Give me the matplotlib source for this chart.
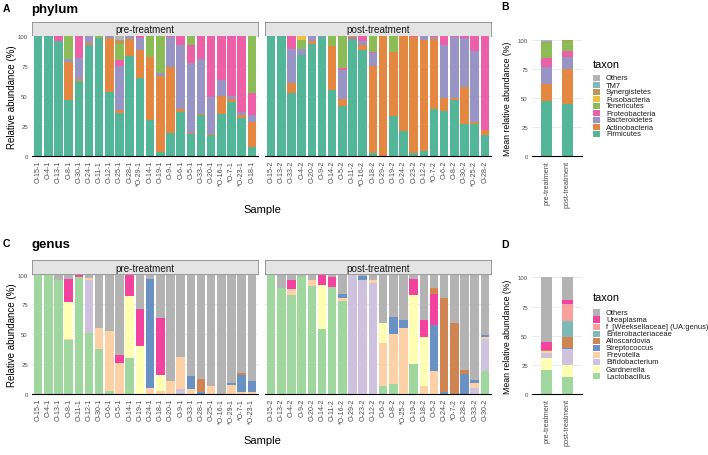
import numpy as np
import matplotlib
matplotlib.use("Agg")
from matplotlib import pyplot as plt
from matplotlib.patches import Rectangle

plt.rcParams["font.family"] = ["Liberation Sans", "DejaVu Sans"]

W, H = 708, 456

# ---- phylum -------------------------------------------------------------
phylum_taxa = ["Firmicutes", "Actinobacteria", "Bacteroidetes", "Proteobacteria",
               "Tenericutes", "Fusobacteria", "Synergistetes", "TM7", "Others"]
phylum_colors = ["#54b699", "#e38741", "#9894c6", "#ed5fa7", "#8cbc56",
                 "#ecc041", "#bc9856", "#80b9ba", "#b3b3b3"]

phylum_pre_samples = ["O-15-1", "O-4-1", "O-13-1", "O-8-1", "O-30-1", "O-24-1", "O-11-1",
                      "O-12-1", "O-25-1", "O-28-1", "*O-29-1", "O-14-1", "O-19-1", "O-9-1",
                      "O-6-1", "O-5-1", "O-33-1", "O-20-1", "*O-16-1", "*O-7-1", "*O-23-1",
                      "O-18-1"]
phylum_pre = [
    [100, 0, 0, 0, 0, 0, 0, 0, 0],
    [100, 0, 0, 0, 0, 0, 0, 0, 0],
    [95.8, 0, 0, 4.2, 0, 0, 0, 0, 0],
    [46.8, 31.6, 2.6, 0, 19.0, 0, 0, 0, 0],
    [62.7, 1.4, 17.7, 18.2, 0, 0, 0, 0, 0],
    [93.0, 1.1, 5.9, 0, 0, 0, 0, 0, 0],
    [98.6, 0, 0, 0, 1.4, 0, 0, 0, 0],
    [53.2, 45.4, 1.4, 0, 0, 0, 0, 0, 0],
    [36.4, 2.0, 36.4, 5.6, 13.2, 0, 3.0, 0, 3.4],
    [83.2, 14.8, 2.0, 0, 0, 0, 0, 0, 0],
    [65.0, 23.8, 9.8, 1.4, 0, 0, 0, 0, 0],
    [30.0, 52.4, 0, 0, 17.6, 0, 0, 0, 0],
    [3.4, 63.8, 2.0, 0, 30.8, 0, 0, 0, 0],
    [19.6, 54.4, 25.4, 0.6, 0, 0, 0, 0, 0],
    [37.0, 2.8, 53.2, 7.0, 0, 0, 0, 0, 0],
    [18.8, 0.8, 58.0, 15.4, 7.0, 0, 0, 0, 0],
    [34.2, 1.4, 45.4, 19.0, 0, 0, 0, 0, 0],
    [17.4, 1.4, 30.8, 50.4, 0, 0, 0, 0, 0],
    [35.6, 14.5, 13.5, 36.4, 0, 0, 0, 0, 0],
    [45.4, 2.2, 2.8, 49.6, 0, 0, 0, 0, 0],
    [32.0, 2.2, 2.8, 63.0, 0, 0, 0, 0, 0],
    [7.6, 21.0, 5.6, 18.2, 47.6, 0, 0, 0, 0],
]

phylum_post_samples = ["O-15-2", "O-13-2", "O-33-2", "O-4-2", "O-20-2", "O-9-2", "O-14-2",
                       "O-5-2", "O-11-2", "*O-16-2", "O-18-2", "O-29-2", "O-19-2", "O-24-2",
                       "O-23-2", "O-12-2", "*O-7-2", "O-6-2", "O-8-2", "O-30-2", "*O-25-2",
                       "O-28-2"]
phylum_post = [
    [100, 0, 0, 0, 0, 0, 0, 0, 0],
    [100, 0, 0, 0, 0, 0, 0, 0, 0],
    [53.0, 8.3, 28.3, 10.4, 0, 0, 0, 0, 0],
    [84.0, 0, 5.6, 0, 7.6, 2.8, 0, 0, 0],
    [93.6, 2.2, 4.2, 0, 0, 0, 0, 0, 0],
    [99.4, 0, 0.6, 0, 0, 0, 0, 0, 0],
    [55.2, 37.0, 0, 0, 7.8, 0, 0, 0, 0],
    [42.0, 5.3, 24.7, 1.4, 26.6, 0, 0, 0, 0],
    [98.0, 0, 0, 1.0, 1.0, 0, 0, 0, 0],
    [88.8, 4.2, 2.8, 4.2, 0, 0, 0, 0, 0],
    [2.8, 72.8, 10.4, 0.6, 13.4, 0, 0, 0, 0],
    [0.5, 99.5, 0, 0, 0, 0, 0, 0, 0],
    [33.3, 53.3, 0, 0, 13.4, 0, 0, 0, 0],
    [20.7, 79.3, 0, 0, 0, 0, 0, 0, 0],
    [2.8, 96.4, 0, 0.8, 0, 0, 0, 0, 0],
    [4.5, 92.7, 2.8, 0, 0, 0, 0, 0, 0],
    [39.0, 58.8, 1.4, 0.8, 0, 0, 0, 0, 0],
    [37.8, 10.9, 44.3, 7.0, 0, 0, 0, 0, 0],
    [46.8, 1.9, 50.7, 0.6, 0, 0, 0, 0, 0],
    [27.2, 30.2, 41.2, 1.4, 0, 0, 0, 0, 0],
    [26.6, 2.0, 59.4, 12.0, 0, 0, 0, 0, 0],
    [17.4, 4.2, 0, 78.4, 0, 0, 0, 0, 0],
]

phylum_mean_pre = [47.5, 14.5, 14.5, 7.5, 13.0, 0.2, 1.0, 0.5, 1.3]
phylum_mean_post = [44.5, 30.0, 10.5, 5.5, 8.5, 0.3, 0.2, 0.2, 0.3]

# ---- genus --------------------------------------------------------------
genus_taxa = ["Lactobacillus", "Gardnerella", "Bifidobacterium", "Prevotella",
              "Streptococcus", "Alloscardovia", "Enterobacteriaceae",
              "f_[Weeksellaceae] (UA:genus)", "Ureaplasma", "Others"]
genus_colors = ["#9fd79f", "#ffffb3", "#cec2df", "#fed0a5", "#6a91c4",
                "#cf8451", "#80b8b8", "#f8a19c", "#f4429f", "#b3b3b3"]
# stacking order of the per-sample bars (bottom -> top)
genus_sample_stack = [0, 2, 3, 1, 4, 6, 7, 8, 5, 9]

genus_pre_samples = ["O-15-1", "O-4-1", "O-13-1", "O-8-1", "O-11-1", "O-12-1", "O-30-1",
                     "O-6-1", "O-5-1", "O-14-1", "O-19-1", "O-24-1", "O-18-1", "O-20-1",
                     "O-9-1", "O-33-1", "O-28-1", "O-25-1", "*O-16-1", "*O-29-1", "*O-7-1",
                     "*O-23-1"]
genus_pre = [
    [100, 0, 0, 0, 0, 0, 0, 0, 0, 0],
    [100, 0, 0, 0, 0, 0, 0, 0, 0, 0],
    [95.3, 0, 0, 0, 0, 0, 0, 0, 0, 4.7],
    [45.0, 30.6, 0, 1.4, 0, 0, 0, 0, 19.0, 4.0],
    [98.0, 0, 0, 0, 0, 0, 0, 0, 1.4, 0.6],
    [51.0, 0, 44.8, 1.4, 0, 0, 0, 0, 0, 2.8],
    [38.0, 0, 0, 17.3, 0, 0, 0, 0, 0, 44.7],
    [3.0, 0, 0, 49.8, 0, 0, 0, 0, 0, 47.2],
    [0, 0, 0, 26.0, 0, 0, 0, 0, 6.4, 67.6],
    [30.2, 51.6, 0, 0, 0, 0, 0, 0, 18.2, 0],
    [0, 40.5, 0, 0, 0, 0, 0, 0, 31.0, 28.5],
    [0, 0, 0, 5.3, 91.3, 0, 0, 0, 0, 3.4],
    [0, 13.5, 0, 3.0, 0, 0, 0, 0, 47.2, 36.3],
    [0, 0, 0, 11.0, 0, 0, 0, 0, 0, 89.0],
    [0, 0, 4.5, 26.5, 0, 0, 0, 0, 0, 69.0],
    [0, 0, 0, 4.2, 11.2, 0, 0, 0, 0, 84.6],
    [0, 0, 0, 0, 2.2, 10.4, 0, 0, 0, 87.4],
    [0, 0, 0, 7.0, 0, 0, 0, 0, 0, 93.0],
    [0, 0, 0, 0, 0, 0, 0, 0, 0, 100],
    [0, 0, 0, 8.1, 1.1, 0, 0, 0, 0, 90.8],
    [0, 0, 0, 2.2, 14.0, 1.4, 0, 0, 0, 82.4],
    [0, 0, 0, 1.7, 9.8, 0, 0, 0, 0, 88.5],
]

genus_post_samples = ["O-15-2", "O-13-2", "O-4-2", "O-9-2", "O-20-2", "O-14-2", "O-11-2",
                      "*O-16-2", "O-29-2", "O-23-2", "O-12-2", "O-6-2", "O-8-2", "*O-25-2",
                      "O-19-2", "O-18-2", "O-5-2", "O-24-2", "*O-7-2", "O-28-2", "O-33-2",
                      "O-30-2"]
genus_post = [
    [100, 0, 0, 0, 0, 0, 0, 0, 0, 0],
    [88.8, 0, 0, 0, 0, 0, 0, 0, 0, 11.2],
    [82.7, 0, 0, 5.0, 0, 0, 0, 0, 7.6, 4.7],
    [98.6, 0, 0, 0, 0, 0, 0, 0, 0, 1.4],
    [90.8, 0, 0, 4.5, 0, 0, 0, 0, 0, 4.7],
    [54.7, 36.9, 0, 0, 0, 0, 0, 0, 8.4, 0],
    [89.7, 0, 0, 0, 0, 0, 0, 0, 8.3, 2.0],
    [77.7, 0, 0, 3.0, 3.3, 0, 0, 0, 0, 16.0],
    [0, 0, 100, 0, 0, 0, 0, 0, 0, 0],
    [0, 0, 95.8, 0, 2.8, 0, 0, 0, 0, 1.4],
    [0, 0, 93.0, 2.3, 0, 0, 0, 0, 0, 4.7],
    [6.7, 17.1, 0, 36.0, 0, 0, 0, 0, 0, 40.2],
    [8.7, 0, 0, 41.9, 14.2, 0, 0, 0, 0, 35.2],
    [0, 0, 0, 55.3, 6.4, 0, 0, 0, 0, 38.3],
    [25.4, 57.8, 0, 0, 0, 0, 0, 0, 13.4, 3.4],
    [0, 40.5, 0, 7.3, 0, 0, 0, 0, 13.9, 38.3],
    [0, 0, 0, 19.8, 37.7, 5.1, 0, 0, 26.5, 10.9],
    [0, 0, 0, 0, 2.2, 78.5, 0, 0, 0, 19.3],
    [0, 0, 0, 0, 0, 59.5, 0, 0, 0, 40.5],
    [0, 0, 0, 0, 17.0, 3.4, 0, 0, 0, 79.6],
    [0, 0, 5.0, 4.2, 2.8, 0, 0, 0, 0, 88.0],
    [19.3, 0, 27.1, 1.4, 1.4, 0, 0, 0, 0, 50.8],
]

genus_mean_pre = [20.9, 10.5, 4.3, 1.0, 0.3, 0.5, 0, 0, 7.0, 55.5]
genus_mean_post = [14.9, 10.0, 13.7, 0.5, 0.3, 10.0, 13.0, 14.7, 3.5, 19.4]

groups = ["pre-treatment", "post-treatment"]
y_ticks = [0, 25, 50, 75, 100]

TICK_GRAY = "#4d4d4d"
GRID = "#ebebeb"


def px_axes(fig, x0, y0, x1, y1):
    """Add axes from pixel box (top-left origin)."""
    return fig.add_axes([x0 / W, 1 - y1 / H, (x1 - x0) / W, (y1 - y0) / H])


def style_axes(ax, show_y=True):
    for side in ("top", "right", "left"):
        ax.spines[side].set_visible(False)
    ax.spines["bottom"].set_color("black")
    ax.spines["bottom"].set_linewidth(0.8)
    ax.set_ylim(0, 100)
    ax.set_yticks(y_ticks)
    ax.tick_params(axis="y", length=0, pad=3, labelsize=4.3, labelcolor=TICK_GRAY)
    ax.tick_params(axis="x", length=0, pad=2.5, labelsize=5.1, labelcolor=TICK_GRAY)
    if not show_y:
        ax.set_yticklabels([])
    for v in y_ticks[1:]:
        ax.axhline(v, color=GRID, lw=0.7, zorder=0)
    ax.set_facecolor("white")


def stacked(ax, labels, rows, colors, order=None, width=0.84):
    data = np.asarray(rows, dtype=float)
    x = np.arange(1, len(labels) + 1)
    order = range(data.shape[1]) if order is None else order
    bottom = np.zeros(len(labels))
    for k in order:
        ax.bar(x, data[:, k], width=width, bottom=bottom, color=colors[k],
               linewidth=0, zorder=2)
        bottom += data[:, k]
    ax.set_xlim(0.4, len(labels) + 0.6)
    ax.set_xticks(x)
    ax.set_xticklabels(labels, rotation=90)


def strip(fig, x0, x1, y0, y1, text):
    sax = px_axes(fig, x0, y0, x1, y1)
    sax.set_xticks([])
    sax.set_yticks([])
    sax.set_facecolor("#e4e4e4")
    for sp in sax.spines.values():
        sp.set_color("#8a8a8a")
        sp.set_linewidth(0.6)
    sax.text(0.5, 0.45, text, ha="center", va="center", fontsize=7.1,
             color="#1a1a1a", transform=sax.transAxes)


def legend(fig, x, y_title, y_first, step, names, colors):
    fig.text(x / W, 1 - y_title / H, "taxon", fontsize=7.9, va="center", ha="left")
    for i, k in enumerate(reversed(range(len(names)))):
        yc = y_first + i * step
        fig.patches.append(Rectangle((x / W, 1 - (yc + 3.2) / H), 6.7 / W, 6.2 / H,
                                     transform=fig.transFigure, facecolor=colors[k],
                                     edgecolor="none"))
        fig.text((x + 13) / W, 1 - yc / H, names[k], fontsize=5.4, va="center",
                 ha="left", color="#1a1a1a")


def facet_panel(fig, letter, title, top, strip_top, bottom, sample_label_y,
                pre, post, taxa, colors, order=None):
    fig.text(2.5 / W, 1 - (top) / H, letter, fontsize=7.5, fontweight="bold",
             va="center", ha="left")
    fig.text(31.5 / W, 1 - (top + 1.5) / H, title, fontsize=9.5, fontweight="bold",
             va="center", ha="left")
    panels = [(32, 258), (265, 491)]
    for (x0, x1), grp, (labels, rows) in zip(panels, groups, [pre, post]):
        strip(fig, x0, x1, strip_top, strip_top + 14, grp)
        ax = px_axes(fig, x0, strip_top + 14.5, x1, bottom)
        style_axes(ax, show_y=(x0 == 32))
        stacked(ax, labels, rows, colors, order)
    fig.text(12 / W, 1 - ((strip_top + 14.5 + bottom) / 2) / H,
             "Relative abundance (%)", rotation=90, fontsize=7, va="center", ha="center")
    fig.text(262 / W, 1 - sample_label_y / H, "Sample", fontsize=8, va="center",
             ha="center")


def mean_panel(fig, letter, letter_y, top, bottom, pre, post, taxa, colors):
    fig.text(501 / W, 1 - letter_y / H, letter, fontsize=7.5, fontweight="bold",
             va="center", ha="left")
    ax = px_axes(fig, 532, top, 582, bottom)
    style_axes(ax)
    stacked(ax, groups, [pre, post], colors, width=0.56)
    ax.set_xlim(0.3, 2.7)
    ax.tick_params(axis="x", labelsize=5.3)
    fig.text(507.5 / W, 1 - ((top + bottom) / 2) / H, "Mean relative abundance (%)",
             rotation=90, fontsize=6.3, va="center", ha="center")


fig = plt.figure(figsize=(W / 100, H / 100), dpi=100)

facet_panel(fig, "A", "phylum", 8.5, 22.7, 157.3, 210,
            (phylum_pre_samples, phylum_pre), (phylum_post_samples, phylum_post),
            phylum_taxa, phylum_colors)
mean_panel(fig, "B", 7, 40.7, 157.3, phylum_mean_pre, phylum_mean_post,
           phylum_taxa, phylum_colors)
legend(fig, 593, 65, 79, 7.0, phylum_taxa, phylum_colors)

facet_panel(fig, "C", "genus", 244, 261, 395.3, 441,
            (genus_pre_samples, genus_pre), (genus_post_samples, genus_post),
            genus_taxa, genus_colors, order=genus_sample_stack)
mean_panel(fig, "D", 245, 278.3, 395.3, genus_mean_pre, genus_mean_post,
           genus_taxa, genus_colors)
legend(fig, 593, 298.5, 313.3, 7.1, genus_taxa, genus_colors)

fig.savefig("out.png", dpi=100)
